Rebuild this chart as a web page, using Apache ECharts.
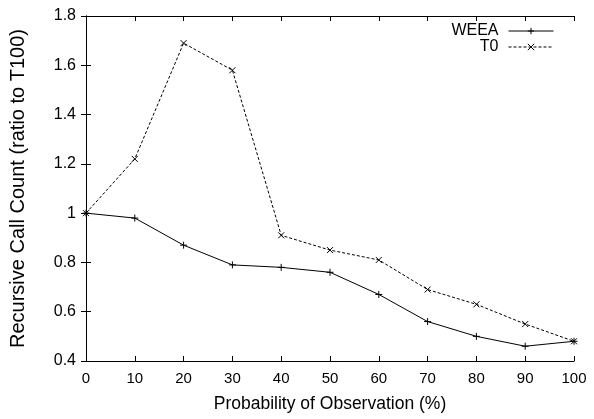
<!DOCTYPE html>
<html>
<head>
<meta charset="utf-8">
<script src="https://cdn.jsdelivr.net/npm/echarts@6/dist/echarts.min.js"></script>
<style>
html,body{margin:0;padding:0;background:#fff;}
#chart{width:594px;height:419px;}
</style>
</head>
<body>
<div id="chart"></div>
<script>
// Observation probability (%) on the x axis
const probabilities = [0, 10, 20, 30, 40, 50, 60, 70, 80, 90, 100];
// Recursive call count, as a ratio to T100
const weea = [1.0, 0.98, 0.87, 0.79, 0.78, 0.76, 0.67, 0.56, 0.50, 0.46, 0.48];
const t0 = [1.0, 1.22, 1.69, 1.58, 0.91, 0.85, 0.81, 0.69, 0.63, 0.55, 0.48];

const FONT = '"Liberation Sans", Arial, sans-serif';
const plusSymbol = 'path://M0,5L10,5M5,0L5,10';
const crossSymbol = 'path://M0,0L10,10M10,0L0,10';

const chart = echarts.init(document.getElementById('chart'), null, {renderer: 'canvas'});

const axisLine = {show: true, lineStyle: {color: '#000', width: 1}};
const tickIn = {show: true, inside: true, length: 5, lineStyle: {color: '#000'}};

chart.setOption({
  animation: false,
  backgroundColor: '#fff',
  grid: {left: 86, right: 20, top: 16, bottom: 58},
  legend: {
    top: 23, right: 40, orient: 'vertical', align: 'right', padding: 0,
    itemWidth: 45, itemHeight: 8, itemGap: 0,
    textStyle: {fontFamily: FONT, fontSize: 16, lineHeight: 14, color: '#000', padding: [0, 5, 0, 0]},
    lineStyle: {width: 1, color: '#000'},
    itemStyle: {borderWidth: 1, borderColor: '#000', color: 'rgba(0,0,0,0)'},
    data: ['WEEA', 'T0']
  },
  xAxis: [{
    type: 'value', min: 0, max: 100, interval: 10,
    name: 'Probability of Observation (%)', nameLocation: 'middle', nameGap: 34,
    nameTextStyle: {fontFamily: FONT, fontSize: 17.5, color: '#000'},
    axisLine: axisLine, axisTick: tickIn, splitLine: {show: false},
    axisLabel: {fontFamily: FONT, fontSize: 15, color: '#000', margin: 10}
  }, {
    type: 'value', position: 'top', min: 0, max: 100, interval: 10,
    axisLine: axisLine, axisTick: tickIn, splitLine: {show: false},
    axisLabel: {show: false}
  }],
  yAxis: [{
    type: 'value', min: 0.4, max: 1.8, interval: 0.2,
    name: 'Recursive Call Count (ratio to T100)', nameLocation: 'middle', nameGap: 58,
    nameTextStyle: {fontFamily: FONT, fontSize: 20, color: '#000'},
    axisLine: axisLine, axisTick: tickIn, splitLine: {show: false},
    axisLabel: {fontFamily: FONT, fontSize: 16, color: '#000', margin: 10,
      formatter: v => String(Math.round(v * 10) / 10)}
  }, {
    type: 'value', position: 'right', min: 0.4, max: 1.8, interval: 0.2,
    axisLine: axisLine, axisTick: tickIn, splitLine: {show: false},
    axisLabel: {show: false}
  }],
  series: [{
    name: 'WEEA', type: 'line',
    data: probabilities.map((p, i) => [p, weea[i]]),
    symbol: plusSymbol, symbolSize: 7, showAllSymbol: true,
    lineStyle: {color: '#000', width: 1},
    itemStyle: {color: 'rgba(0,0,0,0)', borderColor: '#000', borderWidth: 1}
  }, {
    name: 'T0', type: 'line',
    data: probabilities.map((p, i) => [p, t0[i]]),
    symbol: crossSymbol, symbolSize: 6, showAllSymbol: true,
    lineStyle: {color: '#000', width: 1, type: [3, 2]},
    itemStyle: {color: 'rgba(0,0,0,0)', borderColor: '#000', borderWidth: 1}
  }]
});
</script>
</body>
</html>
